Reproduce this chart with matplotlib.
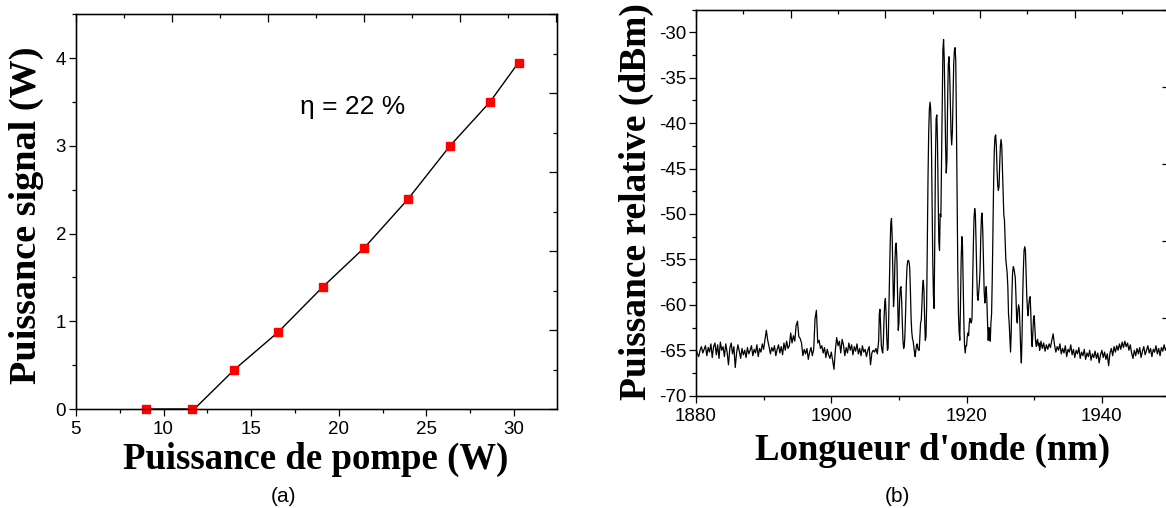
import numpy as np
import matplotlib
matplotlib.use("Agg")
import matplotlib.pyplot as plt
from matplotlib.ticker import MultipleLocator, NullFormatter

# ---- panel (a): signal power vs pump power ----
pump = [9.02, 11.6, 14.05, 16.56, 19.08, 21.47, 23.94, 26.35, 28.63, 30.26]
signal = [0.0, 0.0, 0.45, 0.88, 1.39, 1.84, 2.39, 3.0, 3.5, 3.95]
# guide line drawn by the original software (threshold at ~11.8 W)
fit_pump = [9.02, 11.6, 11.76, 14.05, 16.56, 19.08, 21.47, 23.94, 26.35, 28.63, 30.26]
fit_signal = [0.0, 0.0, 0.0, 0.45, 0.88, 1.39, 1.84, 2.39, 3.0, 3.5, 3.95]
eta_text = "η = 22 %"

# ---- panel (b): spectrum ----
# 1880.0 -> 1906.8 nm, step 0.2 nm
p_left = [
    -64.8, -65.4, -65.7, -65.0, -64.6, -65.3, -64.9, -64.5, -65.6, -64.7,
    -65.2, -64.3, -65.8, -64.6, -64.2, -65.5, -64.4, -65.9, -64.1, -65.0,
    -64.6, -65.7, -64.3, -65.2, -66.6, -64.8, -64.2, -65.4, -64.6, -66.9,
    -65.3, -64.4, -65.1, -65.9, -64.8, -65.5, -65.0, -65.8, -64.7, -65.4,
    -65.0, -64.5, -65.6, -64.9, -65.3, -64.4, -65.7, -64.8, -65.2, -64.3,
    -64.9, -63.8, -62.8, -63.9, -64.6, -65.4, -64.7, -65.1, -64.5, -65.6,
    -64.9, -64.4, -65.3, -64.6, -65.5, -64.2, -65.0, -64.0, -64.8, -64.5,
    -63.1, -64.2, -63.4, -64.0, -62.3, -61.8, -63.5, -63.7, -64.2, -65.6,
    -64.9, -65.4, -64.8, -66.0, -65.2, -64.7, -65.6, -64.9, -61.5, -60.6,
    -64.2, -63.9, -64.8, -64.5, -65.3, -64.7, -65.8, -64.9, -65.5, -65.9,
    -65.2, -66.1, -67.1, -65.0, -63.6, -64.5, -64.0, -65.3, -63.8, -64.4,
    -65.6, -64.7, -65.3, -64.2, -65.0, -64.4, -65.5, -64.6, -65.1, -64.3,
    -65.4, -64.8, -65.6, -64.5, -65.2, -64.9, -65.7, -65.0, -64.6, -66.6,
    -65.3, -65.0, -65.2, -64.8, -65.4,
]
# 1907.0 -> 1930.9 nm, step 0.1 nm
p_peaks = [
    -64.0, -61.0, -60.5, -62.5, -64.5, -65.0, -65.3, -64.0, -61.5, -59.8,
    -59.3, -61.0, -63.5, -65.0, -64.8, -61.0, -57.0, -53.5, -51.0, -50.5,
    -52.5, -56.5, -60.2, -59.0, -55.5, -53.5, -53.2, -55.0, -59.0, -62.8,
    -62.0, -59.5, -58.2, -58.0, -59.5, -62.0, -64.0, -64.8, -64.5, -63.0,
    -60.5, -57.5, -55.8, -55.2, -55.1, -55.3, -56.0, -58.5, -61.5, -63.0,
    -63.7, -64.0, -64.6, -65.2, -65.7, -65.0, -64.5, -64.3, -64.8, -65.0,
    -65.0, -63.5, -62.0, -61.7, -60.0, -58.0, -57.3, -58.5, -61.5, -63.9,
    -63.5, -60.0, -53.0, -46.0, -41.0, -38.5, -37.7, -38.5, -42.0, -49.0,
    -55.0, -59.0, -60.4, -53.0, -44.0, -39.5, -39.1, -42.0, -48.0, -53.0,
    -54.0, -50.0, -50.3, -44.0, -37.0, -32.0, -30.8, -33.0, -38.0, -42.5,
    -45.5, -44.0, -37.5, -33.5, -32.7, -34.5, -38.0, -41.0, -42.4, -41.0,
    -37.0, -33.5, -32.0, -31.7, -33.0, -40.0, -48.5, -56.0, -61.0, -63.0,
    -63.9, -60.0, -55.0, -52.5, -53.5, -57.5, -62.0, -64.5, -65.3, -64.5,
    -64.5, -63.5, -63.1, -63.4, -62.0, -61.5, -61.8, -62.0, -61.5, -57.5,
    -53.5, -50.5, -49.4, -50.0, -53.0, -56.5, -59.0, -59.5, -58.5, -57.6,
    -56.0, -52.5, -50.3, -49.9, -52.0, -55.5, -58.5, -59.8, -59.0, -58.0,
    -59.5, -62.0, -63.9, -62.5, -63.5, -64.0, -62.0, -61.0, -57.0, -51.5,
    -46.5, -43.0, -41.5, -41.3, -42.5, -45.0, -46.8, -47.4, -47.0, -44.5,
    -42.5, -41.8, -42.5, -45.0, -47.5, -50.0, -50.7, -53.0, -55.0, -55.8,
    -56.5, -58.0, -61.0, -62.0, -63.5, -65.2, -63.0, -59.0, -56.5, -55.8,
    -56.0, -56.5, -57.0, -59.0, -61.5, -62.0, -60.5, -60.0, -60.5, -62.5,
    -65.0, -66.4, -63.5, -59.0, -56.0, -54.0, -53.6, -54.0, -56.5, -59.0,
    -60.5, -61.2, -60.0, -59.3, -59.1, -61.0, -63.5, -64.6, -63.0, -61.5,
    -61.2, -62.5, -64.0, -64.6, -64.0, -63.8, -64.5, -64.2, -65.0, -64.6,
]
# 1931.0 -> 1950.0 nm, step 0.2 nm
p_right = [
    -64.0, -64.8, -64.2, -65.1, -64.4, -64.9, -64.3, -64.7, -63.9, -63.2,
    -64.4, -65.2, -64.6, -65.0, -64.3, -65.4, -64.8, -65.3, -64.5, -65.7,
    -64.9, -65.2, -64.4, -65.5, -64.9, -65.8, -65.0, -65.4, -64.7, -65.9,
    -65.2, -65.6, -64.9, -66.0, -65.3, -65.7, -65.0, -66.1, -65.4, -65.8,
    -65.1, -65.9, -65.3, -66.4, -65.5, -65.0, -65.8, -65.2, -66.0, -65.4,
    -66.7, -65.3, -64.8, -65.6, -64.6, -65.2, -64.5, -65.0, -64.3, -64.9,
    -64.1, -64.7, -64.0, -64.6, -64.2, -65.0, -64.4, -65.3, -65.9, -65.0,
    -65.6, -64.8, -65.4, -64.7, -65.8, -65.1, -64.6, -65.5, -65.0, -64.5,
    -65.3, -64.8, -65.7, -64.9, -65.2, -64.5, -65.4, -64.8, -65.6, -64.7,
    -65.1, -64.4, -65.0, -64.6, -65.3, -64.9,
]

wl = np.concatenate([
    1880.0 + 0.2 * np.arange(len(p_left)),
    1907.0 + 0.1 * np.arange(len(p_peaks)),
    1931.0 + 0.2 * np.arange(len(p_right)),
])
power = np.concatenate([p_left, p_peaks, p_right])

plt.rcParams['axes.unicode_minus'] = False
sans = ['Liberation Sans', 'DejaVu Sans']
serif = ['Liberation Serif', 'DejaVu Serif']

W, H = 1166, 508
fig = plt.figure(figsize=(W / 100, H / 100), dpi=100)


def style_main(ax):
    for s in ax.spines.values():
        s.set_linewidth(1.0)
    ax.tick_params(which='both', direction='out', top=False, right=False, width=0.9,
                   labelsize=13.5)
    ax.tick_params(which='major', length=5)
    ax.tick_params(which='minor', length=3)
    ax.tick_params(axis='x', pad=4)
    ax.tick_params(axis='y', pad=2)
    for lab in ax.get_xticklabels() + ax.get_yticklabels():
        lab.set_family(sans)


def add_mirror(ax, xmax, ymax, xmaj, ymaj):
    # top and right scales of the original have their own spacing
    tx = ax.twiny()
    tx.set_xlim(0, xmax)
    tx.xaxis.set_major_locator(MultipleLocator(xmaj))
    tx.xaxis.set_minor_locator(MultipleLocator(xmaj / 2))
    tx.xaxis.set_major_formatter(NullFormatter())
    tx.tick_params(axis='x', which='both', direction='in', width=0.9)
    tx.tick_params(axis='x', which='major', length=6)
    tx.tick_params(axis='x', which='minor', length=3)
    ty = ax.twinx()
    ty.set_ylim(0, ymax)
    ty.yaxis.set_major_locator(MultipleLocator(ymaj))
    ty.yaxis.set_minor_locator(MultipleLocator(ymaj / 2))
    ty.yaxis.set_major_formatter(NullFormatter())
    ty.tick_params(axis='y', which='both', direction='in', width=0.9)
    ty.tick_params(axis='y', which='major', length=6)
    ty.tick_params(axis='y', which='minor', length=3)


# ---- left panel ----
ax1 = fig.add_axes([75.9 / W, 1 - 409 / H, (556.7 - 75.9) / W, (409 - 14.3) / H])
ax1.plot(fit_pump, fit_signal, color='black', lw=1.0, zorder=2)
ax1.plot(pump, signal, linestyle='none', marker='s', ms=6.3,
         color='#ff0000', markeredgecolor='#ff0000', zorder=3, clip_on=False)
ax1.set_xlim(5, 32.44)
ax1.set_ylim(0, 4.5)
ax1.xaxis.set_major_locator(MultipleLocator(5))
ax1.xaxis.set_minor_locator(MultipleLocator(2.5))
ax1.yaxis.set_major_locator(MultipleLocator(1))
ax1.yaxis.set_minor_locator(MultipleLocator(0.5))
style_main(ax1)
ax1.text(17.8, 3.44, eta_text, fontsize=19, family=sans, ha='left', va='center')
add_mirror(ax1, 5.007, 10.0, 1, 2)

# ---- right panel ----
ax2 = fig.add_axes([696 / W, 1 - 395.7 / H, (1169.5 - 696) / W, (395.7 - 9.5) / H])
ax2.plot(wl, power, color='black', lw=0.9)
ax2.set_xlim(1880, 1950)
ax2.set_ylim(-70, -27.5)
ax2.xaxis.set_major_locator(MultipleLocator(20))
ax2.xaxis.set_minor_locator(MultipleLocator(10))
ax2.yaxis.set_major_locator(MultipleLocator(5))
ax2.yaxis.set_minor_locator(MultipleLocator(2.5))
style_main(ax2)
add_mirror(ax2, 5.0, 5.0, 1, 1)

# ---- labels ----
lab_kw = dict(fontweight='bold', family=serif, ha='center', va='center')
fig.text(316 / W, 1 - 459 / H, "Puissance de pompe (W)", fontsize=26.5, **lab_kw)
fig.text(26 / W, 1 - 215 / H, "Puissance signal (W)", fontsize=27.5, rotation=90, **lab_kw)
fig.text(933 / W, 1 - 450 / H, "Longueur d'onde (nm)", fontsize=26.5, **lab_kw)
fig.text(636 / W, 1 - 202 / H, "Puissance relative (dBm)", fontsize=27, rotation=90, **lab_kw)
fig.text(283 / W, 1 - 496 / H, "(a)", fontsize=15, family=sans, ha='center', va='center')
fig.text(897 / W, 1 - 496 / H, "(b)", fontsize=15, family=sans, ha='center', va='center')

fig.savefig("out.png", dpi=100)
